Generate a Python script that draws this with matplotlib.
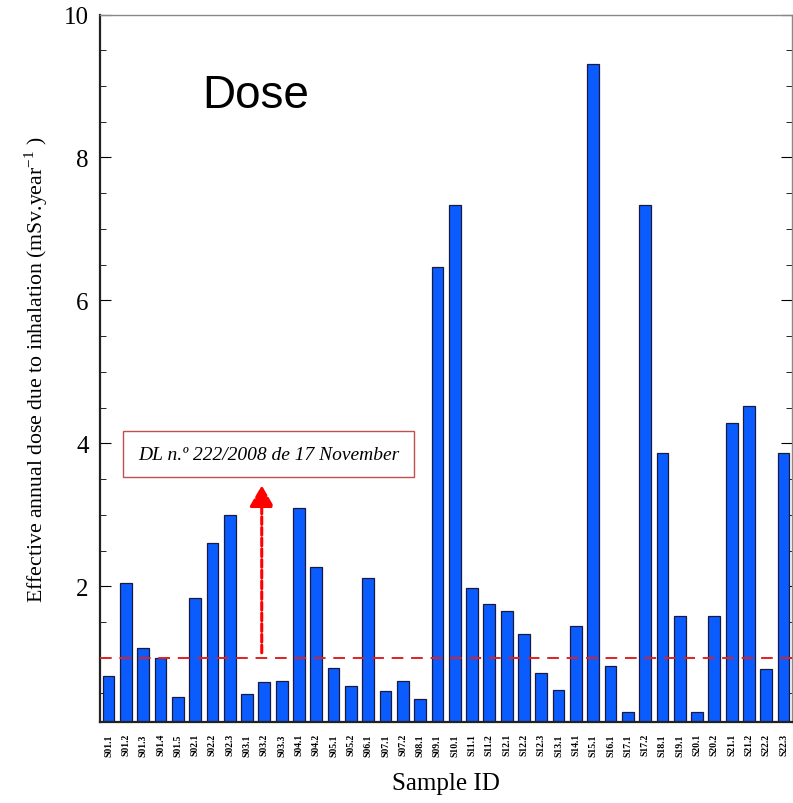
import matplotlib.pyplot as plt
from matplotlib.ticker import MultipleLocator

samples = ['S01.1', 'S01.2', 'S01.3', 'S01.4', 'S01.5', 'S02.1', 'S02.2', 'S02.3',
           'S03.1', 'S03.2', 'S03.3', 'S04.1', 'S04.2', 'S05.1', 'S05.2', 'S06.1',
           'S07.1', 'S07.2', 'S08.1', 'S09.1', 'S10.1', 'S11.1', 'S11.2', 'S12.1',
           'S12.2', 'S12.3', 'S13.1', 'S14.1', 'S15.1', 'S16.1', 'S17.1', 'S17.2',
           'S18.1', 'S19.1', 'S20.1', 'S20.2', 'S21.1', 'S21.2', 'S22.2', 'S22.3']
dose = [0.75, 2.05, 1.13, 1.0, 0.45, 1.83, 2.6, 3.0,
        0.49, 0.66, 0.67, 3.1, 2.27, 0.85, 0.6, 2.11,
        0.53, 0.67, 0.42, 6.47, 7.34, 1.97, 1.75, 1.66,
        1.33, 0.78, 0.55, 1.45, 9.31, 0.88, 0.24, 7.34,
        3.87, 1.58, 0.24, 1.58, 4.28, 4.52, 0.84, 3.87]
limit = 1.0
arrow_x = 8.85
arrow_top = 3.45

plt.rcParams['mathtext.fontset'] = 'stix'

fig = plt.figure(figsize=(7.93, 8.04), dpi=100)
ax = fig.add_axes([0.126, 0.1007, 0.873, 0.880])

x = list(range(len(samples)))
ax.bar(x, dose, width=0.68, color='#0a5cff', edgecolor='#1a1a40', linewidth=0.9, zorder=2)
ax.axhline(limit, color='#e02020', ls=(0, (6, 4)), lw=1.4, zorder=3)
ax.annotate('', xy=(arrow_x, arrow_top), xytext=(arrow_x, limit + 0.03),
            arrowprops=dict(arrowstyle='-|>,head_length=1.3,head_width=0.75',
                            color='#ff0000', lw=2.2, ls=(0, (2.5, 1))), zorder=4)

ax.text(1.7, 3.85, 'DL n.º 222/2008 de 17 November', fontsize=14, style='italic',
        family='Liberation Serif', va='center', ha='left',
        bbox=dict(boxstyle='square,pad=0.75', fc='white', ec='#c05050', lw=1))
ax.text(5.4, 8.87, 'Dose', fontsize=33, family='Liberation Sans', va='center')

ax.set_xlim(-0.5, len(samples) - 0.5)
ax.set_ylim(0.1, 10)
ax.set_xticks(x)
ax.set_xticklabels(samples, rotation=90, fontsize=7, fontweight='bold', family='Liberation Serif')
ax.yaxis.set_major_locator(MultipleLocator(2))
ax.yaxis.set_minor_locator(MultipleLocator(0.5))
ax.set_yticks([2, 4, 6, 8, 10])
ax.tick_params(axis='y', which='major', direction='in', length=8, right=True, labelsize=18, pad=8)
ax.tick_params(axis='y', which='minor', direction='in', length=4, right=True)
ax.tick_params(axis='x', direction='in', length=3, pad=8)
for lbl in ax.get_yticklabels():
    lbl.set_family('Liberation Serif')

for s in ['left', 'bottom']:
    ax.spines[s].set_linewidth(1.6)
    ax.spines[s].set_color('#222222')
for s in ['top', 'right']:
    ax.spines[s].set_linewidth(1)
    ax.spines[s].set_color('#888888')

ax.set_ylabel('Effective annual dose due to inhalation (mSv.year$^{\\mathregular{-1}}$ )', fontsize=15.7,
              family='Liberation Serif', labelpad=10)
ax.set_xlabel('Sample ID', fontsize=18, family='Liberation Serif', labelpad=12)

fig.savefig('out.png', dpi=100)
